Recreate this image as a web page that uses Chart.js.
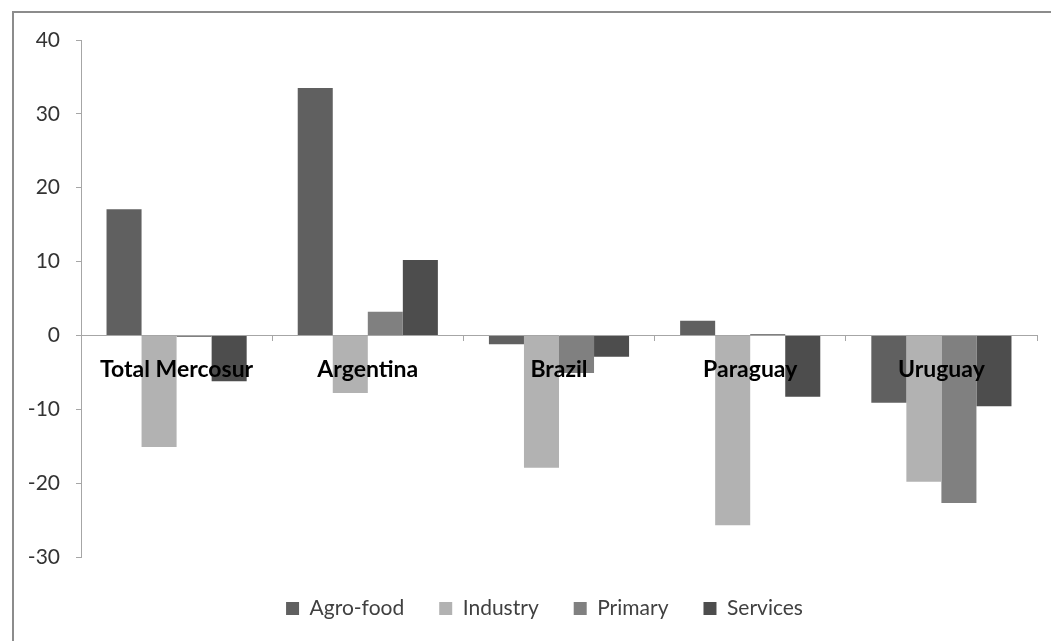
<!DOCTYPE html>
<html>
<head>
<meta charset="utf-8">
<script src="https://cdn.jsdelivr.net/npm/chart.js@4"></script>
<style>
  html, body { margin: 0; padding: 0; background: #fff; overflow: hidden; }
  #frame { position: absolute; left: 12px; top: 11px; width: 1300px; height: 900px;
           border: 2px solid #8c8c8c; box-sizing: border-box; }
  #wrap { position: absolute; left: 0; top: 0; width: 1051px; height: 641px; }
</style>
</head>
<body>
<div id="frame"></div>
<div id="wrap"><canvas id="c" width="1051" height="641"></canvas></div>
<script>
// Change by sector, per country (percent)
const categories = ['Total Mercosur', 'Argentina', 'Brazil', 'Paraguay', 'Uruguay'];
const agroFood = [17.1, 33.5, -1.2, 2.0, -9.1];
const industry = [-15.1, -7.8, -17.9, -25.7, -19.8];
const primary  = [-0.2, 3.2, -5.1, 0.2, -22.7];
const services = [-6.2, 10.2, -2.9, -8.3, -9.6];
const yMin = -30, yMax = 40, yStep = 10;

const FONT = 'Lato, "Open Sans", sans-serif';
const AXIS_GREY = '#a6a6a6';

const seriesDefs = [
  { label: 'Agro-food', data: agroFood, color: '#606060' },
  { label: 'Industry',  data: industry, color: '#b2b2b2' },
  { label: 'Primary',   data: primary,  color: '#808080' },
  { label: 'Services',  data: services, color: '#4d4d4d' }
];

// Nudges the legend box after layout so it sits under the plot's centre.
const legendOffset = {
  id: 'legendOffset',
  afterLayout(chart, args, opts) {
    const lg = chart.legend;
    if (!lg) return;
    lg.left += opts.dx; lg.right += opts.dx;
    lg.top += opts.dy;  lg.bottom += opts.dy;
  }
};

new Chart(document.getElementById('c'), {
  type: 'bar',
  data: {
    labels: categories,
    datasets: seriesDefs.map(s => ({
      label: s.label,
      data: s.data,
      backgroundColor: s.color,
      borderWidth: 0,
      categoryPercentage: 0.733,
      barPercentage: 1.0
    }))
  },
  plugins: [legendOffset],
  options: {
    responsive: false,
    devicePixelRatio: 1,
    animation: false,
    layout: { padding: { left: 28, right: 14, top: 40, bottom: 18 } },
    plugins: {
      tooltip: { enabled: false },
      legendOffset: { dx: 12, dy: 6 },
      legend: {
        position: 'bottom',
        labels: {
          boxWidth: 13,
          boxHeight: 13,
          padding: 35,
          color: '#404040',
          font: { family: FONT, size: 21 }
        }
      }
    },
    scales: {
      x: {
        // category axis runs along the zero line, with its labels above the bars
        position: { y: 0 },
        offset: true,
        grid: {
          offset: true,
          drawOnChartArea: false,
          drawTicks: true,
          tickLength: 5,
          color: AXIS_GREY,
          z: 1
        },
        border: { display: true, color: AXIS_GREY, width: 1, z: 1 },
        ticks: {
          z: 1,
          autoSkip: false,
          maxRotation: 0,
          minRotation: 0,
          padding: 15,
          color: '#000',
          font: { family: FONT, size: 23, weight: 'bold' }
        }
      },
      y: {
        min: yMin,
        max: yMax,
        afterFit: scale => { scale.width = 53; },
        grid: {
          drawOnChartArea: false,
          drawTicks: true,
          tickLength: 5,
          color: AXIS_GREY
        },
        border: { display: true, color: AXIS_GREY, width: 1 },
        ticks: {
          stepSize: yStep,
          padding: 16,
          color: '#333',
          font: { family: FONT, size: 21 }
        }
      }
    }
  }
});
</script>
</body>
</html>
